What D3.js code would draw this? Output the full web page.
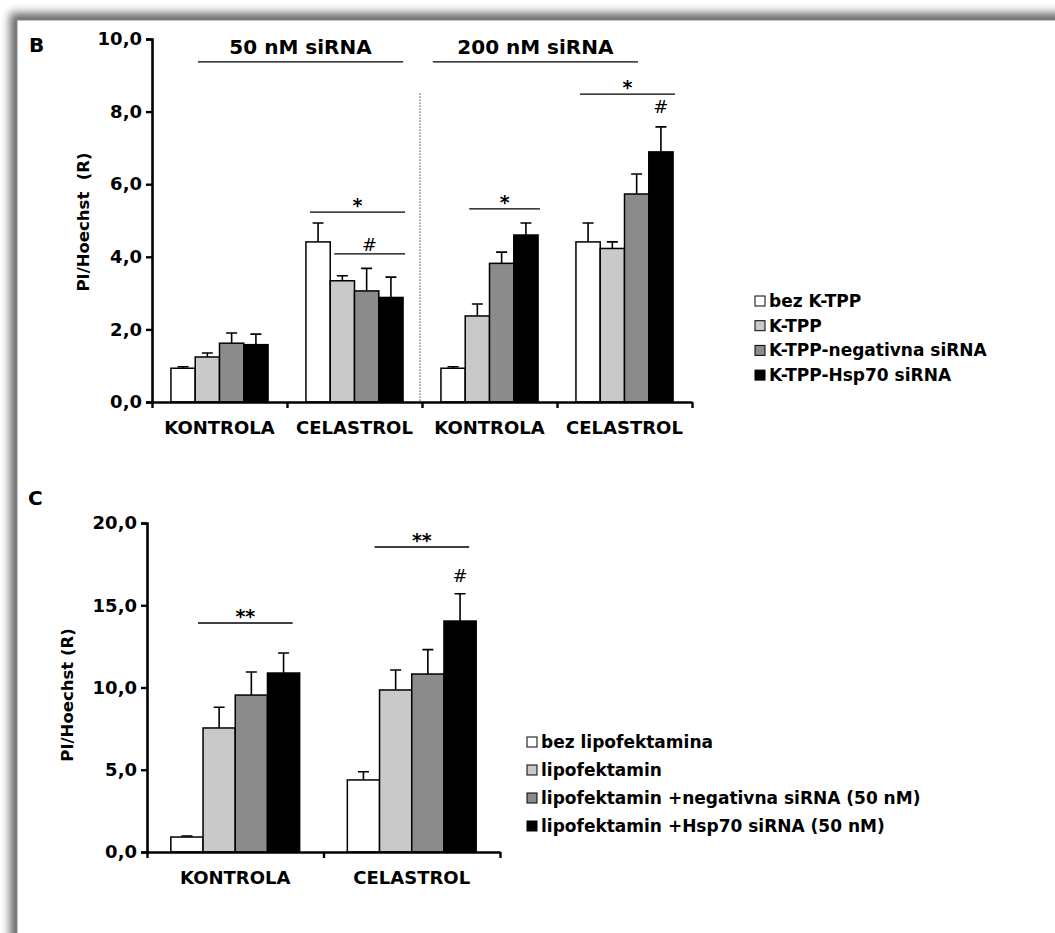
<!DOCTYPE html>
<html>
<head>
<meta charset="utf-8">
<script src="https://cdn.jsdelivr.net/npm/d3@7"></script>
<style>
  body { margin: 0; background: #fff; }
  text { font-family: "DejaVu Sans", sans-serif; fill: #000; }
</style>
</head>
<body>
<div id="chart"></div>
<script>
// ---- panel B data ----
const seriesB = ["bez K-TPP", "K-TPP", "K-TPP-negativna siRNA", "K-TPP-Hsp70 siRNA"];
const groupsB = ["KONTROLA", "CELASTROL", "KONTROLA", "CELASTROL"];
const valuesB = [
    [0.93, 1.24, 1.62, 1.58],
    [4.41, 3.34, 3.06, 2.88],
    [0.93, 2.37, 3.82, 4.60],
    [4.41, 4.23, 5.73, 6.89],
];
const errorsB = [
    [0.04, 0.11, 0.28, 0.29],
    [0.52, 0.14, 0.62, 0.56],
    [0.04, 0.33, 0.31, 0.33],
    [0.52, 0.18, 0.55, 0.69],
];
const ticksB = [0, 2, 4, 6, 8, 10];
const headersB = [
    { label: "50 nM siRNA", span: [0.34, 1.86], y: 9.37 },
    { label: "200 nM siRNA", span: [2.08, 3.6], y: 9.37 },
];
const bracketsB = [
    { cat: 1, from: 0, to: 3, y: 5.23, label: "*" },
    { cat: 1, from: 1, to: 3, y: 4.08, label: "#" },
    { cat: 2, from: 1, to: 3, y: 5.32, label: "*" },
    { cat: 3, from: 0, to: 3, y: 8.48, label: "*" },
];
const marksB = [{ cat: 3, series: 3, y: 7.96, label: "#" }];

// ---- panel C data ----
const seriesC = [
    "bez lipofektamina",
    "lipofektamin",
    "lipofektamin +negativna siRNA (50 nM)",
    "lipofektamin +Hsp70 siRNA (50 nM)",
];
const groupsC = ["KONTROLA", "CELASTROL"];
const valuesC = [
    [0.91, 7.54, 9.54, 10.88],
    [4.38, 9.85, 10.82, 14.04],
];
const errorsC = [
    [0.06, 1.26, 1.40, 1.22],
    [0.50, 1.21, 1.48, 1.66],
];
const ticksC = [0, 5, 10, 15, 20];
const bracketsC = [
    { cat: 0, from: 1, to: 3, y: 13.92, label: "**" },
    { cat: 1, from: 1, to: 3, y: 18.54, label: "**" },
];
const marksC = [{ cat: 1, series: 3, y: 16.41, label: "#" }];

const fills = ["#ffffff", "#c9c9c9", "#8b8b8b", "#000000"];

const svg = d3
    .select("#chart")
    .append("svg")
    .attr("width", 1055)
    .attr("height", 933);

// frame with soft shadow on top/left
const defs = svg.append("defs");
defs.append("filter")
    .attr("id", "blur")
    .attr("x", "-10%")
    .attr("y", "-10%")
    .attr("width", "120%")
    .attr("height", "120%")
    .append("feGaussianBlur")
    .attr("stdDeviation", 5);
svg.append("rect")
    .attr("x", 10).attr("y", 13)
    .attr("width", 1100).attr("height", 1000)
    .attr("fill", "#000").attr("opacity", 0.6)
    .attr("filter", "url(#blur)");
svg.append("rect")
    .attr("x", 17).attr("y", 20)
    .attr("width", 1100).attr("height", 1000)
    .attr("fill", "#fff")
    .attr("stroke", "#888").attr("stroke-width", 1);

const fmt = (d) => d3.format(".1f")(d).replace(".", ",");

function drawPanel(cfg) {
    const g = svg.append("g");
    const n = cfg.groups.length;

    const xu = d3.scaleLinear().domain([0, n]).range(cfg.xRange);
    const x0 = d3.scaleBand().domain(d3.range(n)).range(cfg.xRange).padding(0);
    const x1 = d3
        .scaleBand()
        .domain(d3.range(cfg.series.length))
        .range([0, x0.bandwidth()])
        .paddingOuter(cfg.groupPad)
        .paddingInner(0);
    const y = d3.scaleLinear().domain(d3.extent(cfg.ticks)).range(cfg.yRange);
    const color = d3.scaleOrdinal().domain(d3.range(cfg.series.length)).range(fills);

    // bars
    const groups = g
        .selectAll(".grp")
        .data(cfg.values)
        .join("g")
        .attr("class", "grp")
        .attr("transform", (d, i) => `translate(${x0(i)},0)`);

    groups.each(function (vals, gi) {
        const sel = d3.select(this);
        const rows = vals.map((v, si) => ({ v, si, e: cfg.errors[gi][si] }));
        // error bars first (upper only)
        sel.selectAll(".err")
            .data(rows)
            .join("path")
            .attr("class", "err")
            .attr("fill", "none")
            .attr("stroke", "#000")
            .attr("stroke-width", 1.6)
            .attr("d", (d) => {
                const cx = x1(d.si) + x1.bandwidth() / 2;
                const top = y(d.v + d.e);
                return `M${cx},${y(d.v)}V${top}M${cx - 5.5},${top}H${cx + 5.5}`;
            });
        sel.selectAll("rect")
            .data(rows)
            .join("rect")
            .attr("x", (d) => x1(d.si))
            .attr("width", x1.bandwidth())
            .attr("y", (d) => y(d.v))
            .attr("height", (d) => y(0) - y(d.v))
            .attr("fill", (d) => color(d.si))
            .attr("stroke", "#000")
            .attr("stroke-width", 1.5);
    });

    // y axis
    const yAxis = g
        .append("g")
        .attr("transform", `translate(${cfg.xRange[0]},0)`)
        .call(d3.axisLeft(y).tickValues(cfg.ticks).tickFormat(fmt).tickSize(6).tickPadding(4));
    yAxis.select(".domain").attr("stroke-width", 2.6);
    yAxis.selectAll(".tick line").attr("stroke-width", 2.4);
    yAxis.selectAll(".tick text")
        .attr("font-family", "DejaVu Sans")
        .attr("font-weight", "bold")
        .attr("font-size", 18)
        .attr("fill", "#000");

    // x axis (ticks at group boundaries)
    const xAxis = g
        .append("g")
        .attr("transform", `translate(0,${cfg.yRange[0]})`)
        .call(d3.axisBottom(xu).tickValues(d3.range(n + 1)).tickFormat("").tickSize(6).tickSizeOuter(0));
    xAxis.select(".domain").attr("stroke-width", 2.6);
    xAxis.selectAll(".tick line").attr("stroke-width", 2.4);

    g.selectAll(".cat")
        .data(cfg.groups)
        .join("text")
        .attr("class", "cat")
        .attr("x", (d, i) => x0(i) + x0.bandwidth() / 2)
        .attr("y", cfg.yRange[0] + 32)
        .attr("text-anchor", "middle")
        .attr("font-weight", "bold")
        .attr("font-size", 18)
        .text((d) => d);

    // y title
    g.append("text")
        .attr("transform", `translate(${cfg.yTitlePos[0]},${cfg.yTitlePos[1]}) rotate(-90)`)
        .attr("text-anchor", "middle")
        .attr("dy", "0.35em")
        .attr("font-weight", "bold")
        .attr("font-size", 16.5)
        .style("white-space", "pre")
        .text(cfg.yTitle);

    // panel letter
    g.append("text")
        .attr("x", cfg.letterPos[0])
        .attr("y", cfg.letterPos[1])
        .attr("font-weight", "bold")
        .attr("font-size", 20)
        .text(cfg.letter);

    // significance brackets
    cfg.brackets.forEach((b) => {
        const xa = x0(b.cat) + x1(b.from) + cfg.bracketInset[0];
        const xb = x0(b.cat) + x1(b.to) + x1.bandwidth() + cfg.bracketInset[1];
        g.append("line")
            .attr("x1", xa).attr("x2", xb)
            .attr("y1", y(b.y)).attr("y2", y(b.y))
            .attr("stroke", "#000").attr("stroke-width", 1.3);
        g.append("text")
            .attr("x", (xa + xb) / 2)
            .attr("y", y(b.y) - (b.label === "#" ? 3 : 0))
            .attr("text-anchor", "middle")
            .attr("font-weight", b.label === "#" ? "normal" : "bold")
            .attr("font-size", b.label === "#" ? 18 : 19)
            .text(b.label);
    });
    cfg.marks.forEach((m) => {
        g.append("text")
            .attr("x", x0(m.cat) + x1(m.series) + x1.bandwidth() / 2)
            .attr("y", y(m.y))
            .attr("text-anchor", "middle")
            .attr("font-size", 18)
            .text(m.label);
    });

    // legend
    const leg = g
        .selectAll(".leg")
        .data(cfg.series)
        .join("g")
        .attr("class", "leg")
        .attr("transform", (d, i) => `translate(${cfg.legendPos[0]},${cfg.legendPos[1] + i * cfg.legendStep})`);
    leg.append("rect")
        .attr("x", 0).attr("y", -5)
        .attr("width", 10).attr("height", 10)
        .attr("fill", (d, i) => color(i))
        .attr("stroke", "#000").attr("stroke-width", 1);
    leg.append("text")
        .attr("x", 14)
        .attr("y", 6)
        .attr("font-weight", "bold")
        .attr("font-size", 17)
        .text((d) => d);

    return { g, xu, y };
}

const panelB = drawPanel({
    series: seriesB,
    groups: groupsB,
    values: valuesB,
    errors: errorsB,
    ticks: ticksB,
    xRange: [152, 692],
    yRange: [402, 39],
    groupPad: 0.78,
    yTitle: "PI/Hoechst  (R)",
    yTitlePos: [83, 222],
    letter: "B",
    letterPos: [29, 52],
    brackets: bracketsB,
    bracketInset: [4, 2],
    marks: marksB,
    legendPos: [755, 301],
    legendStep: 24.7,
});

// 50 nM / 200 nM headers and the dotted divider
headersB.forEach((h) => {
    const xa = panelB.xu(h.span[0]);
    const xb = panelB.xu(h.span[1]);
    panelB.g.append("line")
        .attr("x1", xa).attr("x2", xb)
        .attr("y1", panelB.y(h.y)).attr("y2", panelB.y(h.y))
        .attr("stroke", "#000").attr("stroke-width", 1.3);
    panelB.g.append("text")
        .attr("x", (xa + xb) / 2)
        .attr("y", panelB.y(h.y) - 8)
        .attr("text-anchor", "middle")
        .attr("font-weight", "bold")
        .attr("font-size", 20)
        .text(h.label);
});
panelB.g.append("line")
    .attr("x1", panelB.xu(2) - 2).attr("x2", panelB.xu(2) - 2)
    .attr("y1", panelB.y(8.5)).attr("y2", panelB.y(0))
    .attr("stroke", "#444")
    .attr("stroke-width", 1)
    .attr("stroke-dasharray", "1.5,1.5");

drawPanel({
    series: seriesC,
    groups: groupsC,
    values: valuesC,
    errors: errorsC,
    ticks: ticksC,
    xRange: [147, 500],
    yRange: [852, 523],
    groupPad: 0.74,
    yTitle: "PI/Hoechst (R)",
    yTitlePos: [67, 695],
    letter: "C",
    letterPos: [28, 505],
    brackets: bracketsC,
    bracketInset: [-5, -7],
    marks: marksC,
    legendPos: [527, 742],
    legendStep: 28,
});
</script>
</body>
</html>
